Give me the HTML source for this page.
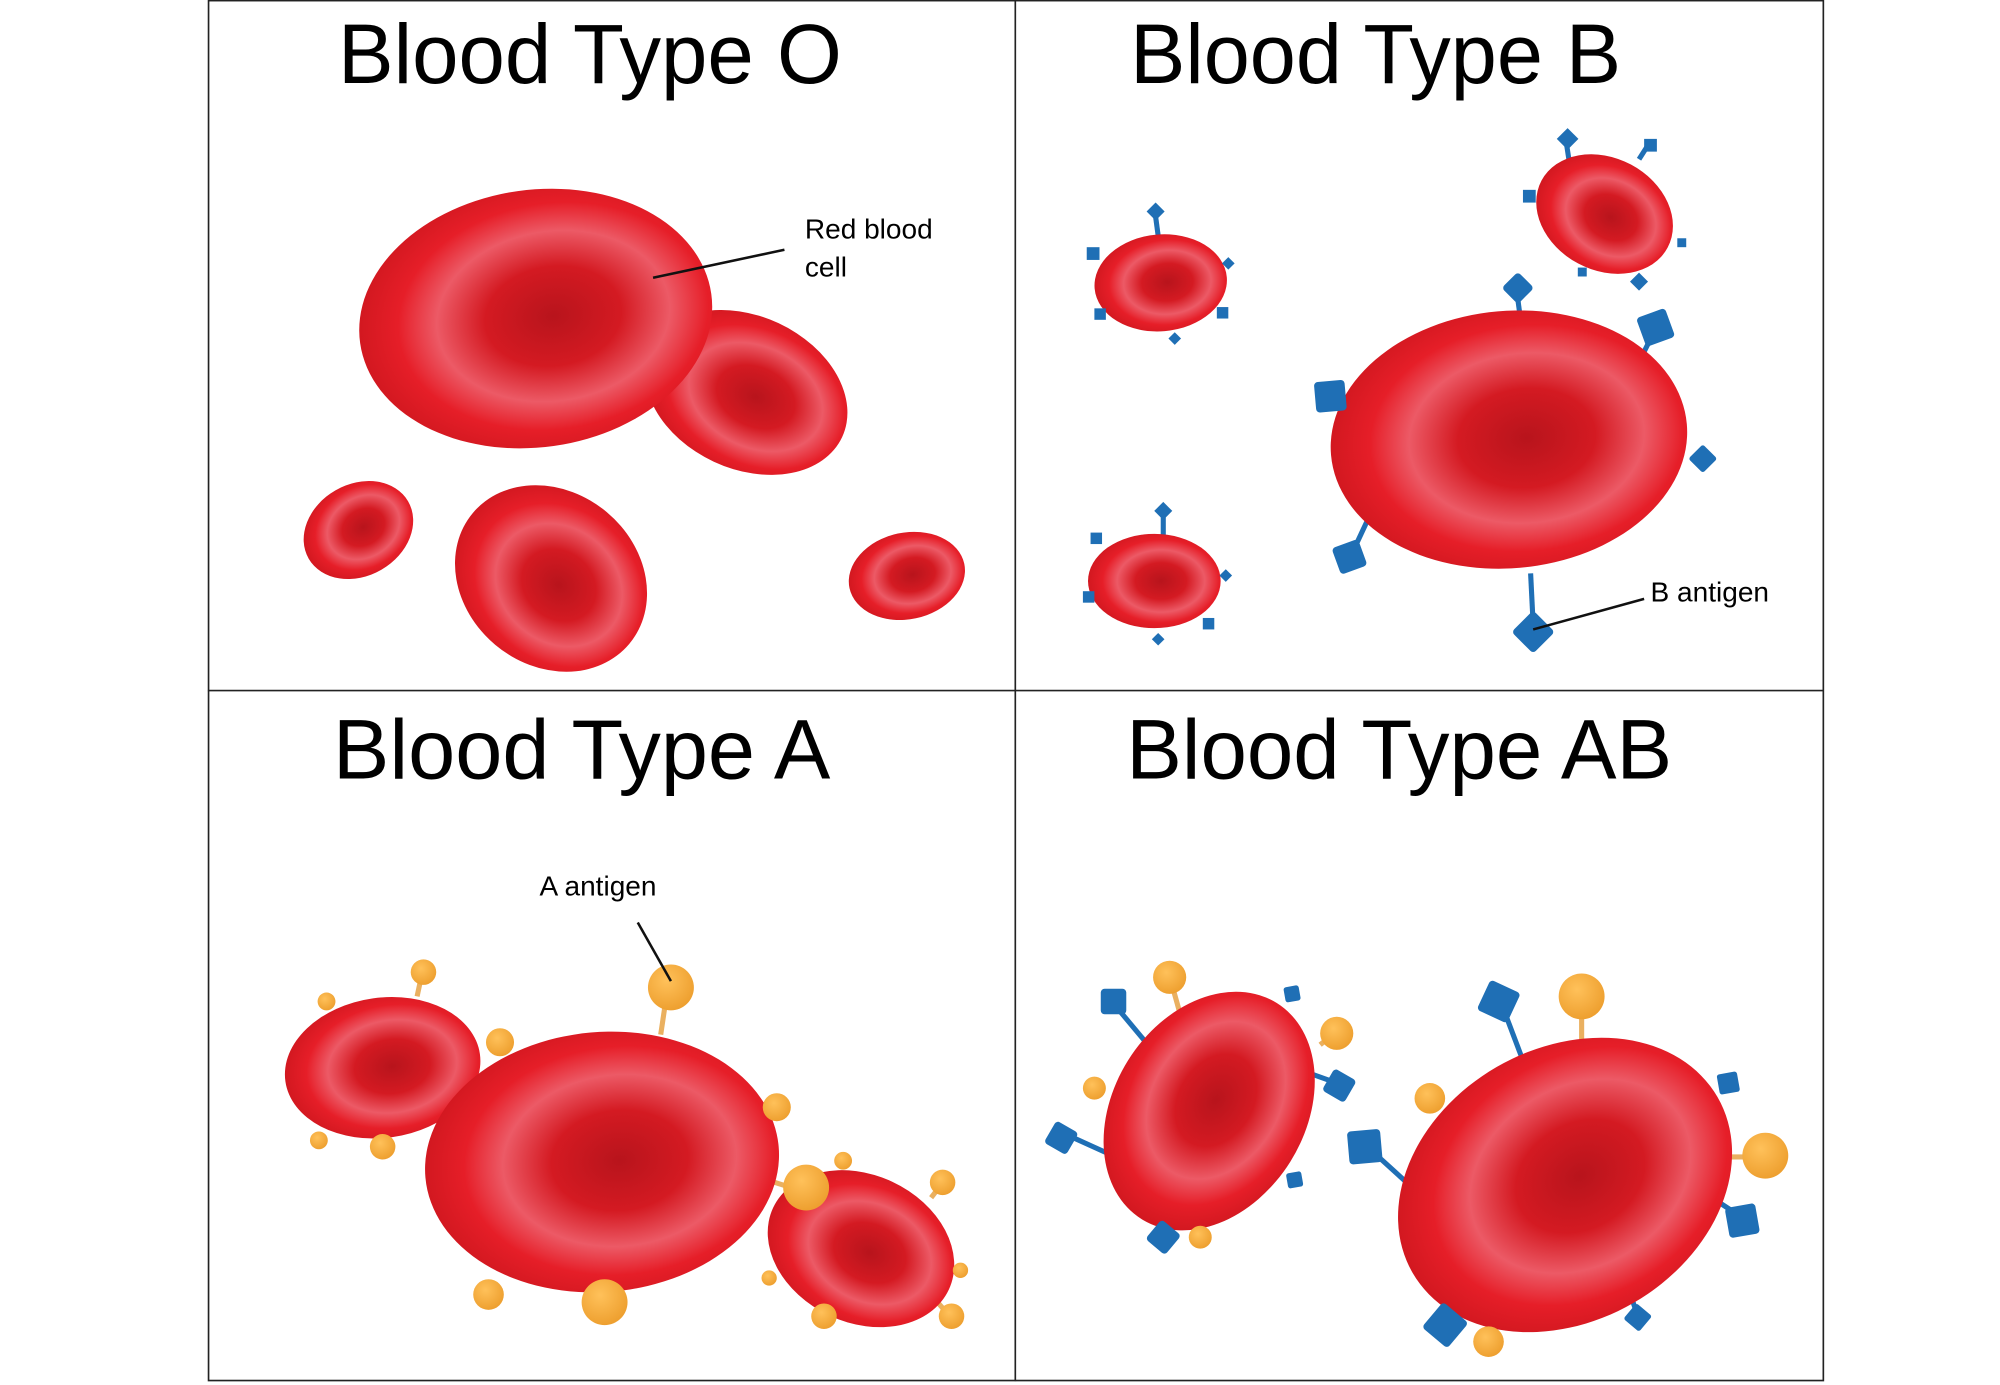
<!DOCTYPE html>
<html><head><meta charset="utf-8"><style>html,body{margin:0;padding:0;background:#fff}svg{display:block}</style></head>
<body>
<svg width="2000" height="1385" viewBox="0 0 1568 1087" preserveAspectRatio="none" xmlns="http://www.w3.org/2000/svg">
<defs>
<radialGradient id="rbc" cx="0.55" cy="0.5" r="0.55">
<stop offset="0" stop-color="#b8141c"/>
<stop offset="0.35" stop-color="#d41a22"/>
<stop offset="0.6" stop-color="#ec5a66"/>
<stop offset="0.8" stop-color="#e61e28"/>
<stop offset="1" stop-color="#d21820"/>
</radialGradient>
<radialGradient id="org" cx="0.4" cy="0.35" r="0.65">
<stop offset="0" stop-color="#ffc15a"/><stop offset="1" stop-color="#eea030"/>
</radialGradient>
</defs>
<rect width="1568" height="1087" fill="#fff"/>
<g stroke="#222" stroke-width="1.3" fill="none">
<rect x="163.5" y="0.5" width="1266" height="1083"/>
<line x1="796" y1="0" x2="796" y2="1084"/>
<line x1="163" y1="542" x2="1430" y2="542"/>
</g>
<g font-family="Liberation Sans, sans-serif" font-size="66" fill="#000">
<text x="265" y="65" textLength="395" lengthAdjust="spacingAndGlyphs">Blood Type O</text>
<text x="886" y="65" textLength="385" lengthAdjust="spacingAndGlyphs">Blood Type B</text>
<text x="261" y="611" textLength="390" lengthAdjust="spacingAndGlyphs">Blood Type A</text>
<text x="883" y="611" textLength="428" lengthAdjust="spacingAndGlyphs">Blood Type AB</text>
</g>
<g font-family="Liberation Sans, sans-serif" font-size="22" fill="#000">
<text x="631" y="187">Red blood</text><text x="631" y="217">cell</text>
<text x="1294" y="472">B antigen</text>
<text x="423" y="703">A antigen</text>
</g>

<g fill="url(#rbc)">
<ellipse cx="585" cy="308" rx="83" ry="60" transform="rotate(25 585 308)"/>
<ellipse cx="420" cy="250" rx="139" ry="101" transform="rotate(-8 420 250)"/>
<ellipse cx="281" cy="416" rx="45" ry="36" transform="rotate(-30 281 416)"/>
<ellipse cx="432" cy="454" rx="80" ry="68" transform="rotate(40 432 454)"/>
<ellipse cx="711" cy="452" rx="46" ry="34" transform="rotate(-12 711 452)"/>
</g>
<line x1="512" y1="218" x2="615" y2="196" stroke="#111" stroke-width="2"/>

<g stroke="#1f6fb5" stroke-width="4" fill="#1f6fb5">
<line x1="1200" y1="450" x2="1202" y2="490"/>
<line x1="1190" y1="235" x2="1192" y2="250"/>
<line x1="1278" y1="298" x2="1296" y2="262"/>
<line x1="1045" y1="312" x2="1074" y2="343"/>
<line x1="1062" y1="430" x2="1076" y2="400"/>
<line x1="906" y1="170" x2="908" y2="185"/>
<line x1="912" y1="406" x2="912" y2="420"/>
<line x1="1228" y1="112" x2="1230" y2="125"/>
<line x1="1285" y1="125" x2="1292" y2="114"/>
</g>
<g fill="url(#rbc)">
<ellipse cx="910" cy="222" rx="52" ry="38" transform="rotate(-5 910 222)"/>
<ellipse cx="1258" cy="168" rx="56" ry="44" transform="rotate(28 1258 168)"/>
<ellipse cx="1183" cy="345" rx="140" ry="101" transform="rotate(-5 1183 345)"/>
<ellipse cx="905" cy="456" rx="52" ry="37"/>
</g>
<g fill="#1f6fb5">
<rect x="-12" y="-12" width="24" height="24" rx="3" transform="translate(1202,496) rotate(45)"/>
<rect x="-9" y="-9" width="18" height="18" rx="3" transform="translate(1190,226) rotate(45)"/>
<rect x="-12" y="-12" width="24" height="24" rx="3" transform="translate(1298,257) rotate(-20)"/>
<rect x="-12" y="-12" width="24" height="24" rx="3" transform="translate(1043,311) rotate(-5)"/>
<rect x="-11" y="-11" width="22" height="22" rx="3" transform="translate(1058,437) rotate(-20)"/>
<rect x="-8" y="-8" width="16" height="16" rx="2" transform="translate(1335,360) rotate(45)"/>
<rect x="-5" y="-5" width="10" height="10" transform="translate(906,166) rotate(45)"/>
<rect x="-5" y="-5" width="10" height="10" transform="translate(857,199)"/>
<rect x="-4" y="-4" width="9" height="9" transform="translate(862,246)"/>
<rect x="-4" y="-4" width="9" height="9" transform="translate(958,245)"/>
<rect x="-3" y="-3" width="7" height="7" transform="translate(963,206) rotate(45)"/>
<rect x="-3" y="-3" width="7" height="7" transform="translate(921,265) rotate(45)"/>
<rect x="-5" y="-5" width="10" height="10" transform="translate(912,401) rotate(45)"/>
<rect x="-4" y="-4" width="9" height="9" transform="translate(859,422)"/>
<rect x="-4" y="-4" width="9" height="9" transform="translate(853,468)"/>
<rect x="-4" y="-4" width="9" height="9" transform="translate(947,489)"/>
<rect x="-3" y="-3" width="7" height="7" transform="translate(961,451) rotate(45)"/>
<rect x="-3" y="-3" width="7" height="7" transform="translate(908,501) rotate(45)"/>
<rect x="-6" y="-6" width="12" height="12" transform="translate(1229,109) rotate(45)"/>
<rect x="-5" y="-5" width="10" height="10" transform="translate(1294,114)"/>
<rect x="-5" y="-5" width="10" height="10" transform="translate(1199,154)"/>
<rect x="-5" y="-5" width="10" height="10" transform="translate(1285,221) rotate(45)"/>
<rect x="-3" y="-3" width="7" height="7" transform="translate(1240,213)"/>
<rect x="-3" y="-3" width="7" height="7" transform="translate(1318,190)"/>
</g>
<line x1="1202" y1="494" x2="1289" y2="470" stroke="#111" stroke-width="2"/>

<g stroke="#eab060" stroke-width="4">
<line x1="518" y1="812" x2="522" y2="785"/>
<line x1="476" y1="985" x2="476" y2="1010"/>
<line x1="598" y1="925" x2="620" y2="932"/>
<line x1="300" y1="878" x2="300" y2="895"/>
<line x1="327" y1="782" x2="330" y2="768"/>
<line x1="645" y1="1022" x2="650" y2="1030"/>
<line x1="735" y1="1022" x2="742" y2="1030"/>
<line x1="730" y1="940" x2="737" y2="931"/>
</g>
<g fill="url(#rbc)">
<ellipse cx="300" cy="838" rx="77" ry="55" transform="rotate(-8 300 838)"/>
<ellipse cx="675" cy="980" rx="76" ry="58" transform="rotate(25 675 980)"/>
<ellipse cx="472" cy="912" rx="139" ry="102" transform="rotate(-5 472 912)"/>
</g>
<g fill="url(#org)">
<circle cx="526" cy="775" r="18"/>
<circle cx="474" cy="1022" r="18"/>
<circle cx="632" cy="932" r="18"/>
<circle cx="383" cy="1016" r="12"/>
<circle cx="609" cy="869" r="11"/>
<circle cx="392" cy="818" r="11"/>
<circle cx="332" cy="763" r="10"/>
<circle cx="256" cy="786" r="7"/>
<circle cx="300" cy="900" r="10"/>
<circle cx="250" cy="895" r="7"/>
<circle cx="661" cy="911" r="7"/>
<circle cx="739" cy="928" r="10"/>
<circle cx="753" cy="997" r="6"/>
<circle cx="746" cy="1033" r="10"/>
<circle cx="646" cy="1033" r="10"/>
<circle cx="603" cy="1003" r="6"/>
</g>
<line x1="500" y1="724" x2="526" y2="770" stroke="#111" stroke-width="2"/>

<g stroke="#1f6fb5" stroke-width="4">
<line x1="875" y1="790" x2="900" y2="820"/>
<line x1="1020" y1="840" x2="1048" y2="850"/>
<line x1="835" y1="890" x2="868" y2="905"/>
<line x1="905" y1="938" x2="912" y2="970"/>
<line x1="1178" y1="790" x2="1195" y2="835"/>
<line x1="1072" y1="900" x2="1105" y2="930"/>
<line x1="1330" y1="932" x2="1365" y2="955"/>
<line x1="1140" y1="995" x2="1135" y2="1040"/>
<line x1="1278" y1="1015" x2="1283" y2="1030"/>
</g>
<g stroke="#eab060" stroke-width="4">
<line x1="918" y1="770" x2="925" y2="795"/>
<line x1="1240" y1="790" x2="1240" y2="825"/>
<line x1="1345" y1="908" x2="1380" y2="908"/>
<line x1="1035" y1="820" x2="1045" y2="812"/>
</g>
<g fill="url(#rbc)">
<ellipse cx="948" cy="872" rx="100" ry="75" transform="rotate(-58 948 872)"/>
<ellipse cx="1227" cy="930" rx="138" ry="107" transform="rotate(-30 1227 930)"/>
</g>
<g fill="#1f6fb5">
<rect x="-10" y="-10" width="20" height="20" rx="3" transform="translate(873,786)"/>
<rect x="-10" y="-10" width="20" height="20" rx="3" transform="translate(1050,852) rotate(30)"/>
<rect x="-10" y="-10" width="20" height="20" rx="3" transform="translate(832,893) rotate(30)"/>
<rect x="-10" y="-10" width="20" height="20" rx="3" transform="translate(912,971) rotate(40)"/>
<rect x="-6" y="-6" width="12" height="12" rx="2" transform="translate(1013,780) rotate(-10)"/>
<rect x="-6" y="-6" width="12" height="12" rx="2" transform="translate(1015,926) rotate(-10)"/>
<rect x="-13" y="-13" width="26" height="26" rx="3" transform="translate(1175,786) rotate(25)"/>
<rect x="-13" y="-13" width="26" height="26" rx="3" transform="translate(1070,900) rotate(-5)"/>
<rect x="-12" y="-12" width="24" height="24" rx="3" transform="translate(1366,958) rotate(-10)"/>
<rect x="-13" y="-13" width="26" height="26" rx="3" transform="translate(1133,1040) rotate(40)"/>
<rect x="-8" y="-8" width="16" height="16" rx="2" transform="translate(1355,850) rotate(-10)"/>
<rect x="-8" y="-8" width="16" height="16" rx="2" transform="translate(1284,1034) rotate(40)"/>
</g>
<g fill="url(#org)">
<circle cx="917" cy="767" r="13"/>
<circle cx="1048" cy="811" r="13"/>
<circle cx="858" cy="854" r="9"/>
<circle cx="941" cy="971" r="9"/>
<circle cx="1240" cy="782" r="18"/>
<circle cx="1121" cy="862" r="12"/>
<circle cx="1384" cy="907" r="18"/>
<circle cx="1167" cy="1053" r="12"/>
</g>
</svg>
</body></html>
